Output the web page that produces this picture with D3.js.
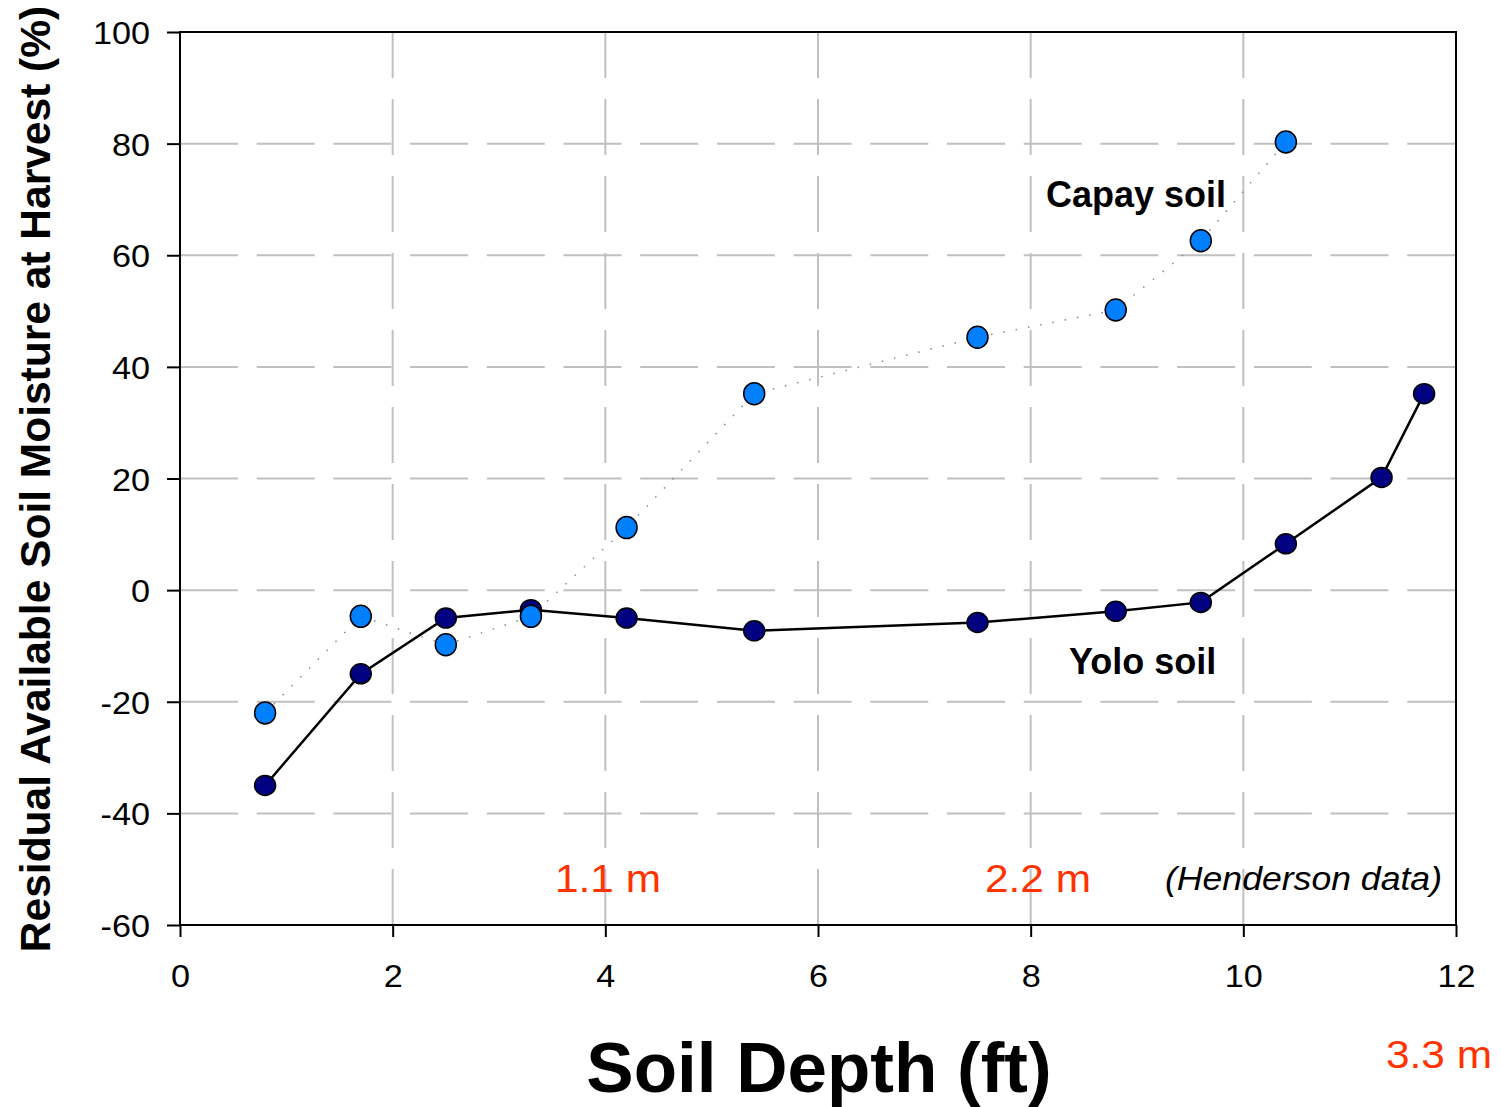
<!DOCTYPE html>
<html><head><meta charset="utf-8">
<script src="https://cdn.jsdelivr.net/npm/d3@7"></script>
<style>body{margin:0;background:#fff}svg{display:block}text{font-family:"Liberation Sans",Arial,sans-serif}</style>
</head><body>
<svg id="c" width="1501" height="1107"></svg>
<script>
const yoloDepth = [0.8, 1.7, 2.5, 3.3, 4.2, 5.4, 7.5, 8.8, 9.6, 10.4, 11.3, 11.7];
const yoloValue = [-35, -15, -5, -3.5, -5, -7.3, -5.8, -3.8, -2.2, 8.3, 20.2, 35.2];
const capayDepth = [0.8, 1.7, 2.5, 3.3, 4.2, 5.4, 7.5, 8.8, 9.6, 10.4];
const capayValue = [-22, -4.7, -9.8, -4.7, 11.2, 35.2, 45.3, 50.2, 62.6, 80.3];
const xTicks = [0, 2, 4, 6, 8, 10, 12];
const yTicks = [-60, -40, -20, 0, 20, 40, 60, 80, 100];

const svg = d3.select("#c");
const L = 180, R = 1456, T = 32, B = 925;
const x = d3.scaleLinear().domain([0, 12]).range([L, R]);
const y = d3.scaleLinear().domain([-60, 100]).range([B, T]);

// gridlines
const grid = svg.append("g");
grid.selectAll("line.h").data(yTicks.filter(v => v > -60 && v < 100)).join("line")
  .attr("x1", L).attr("x2", R).attr("y1", d => y(d)).attr("y2", d => y(d))
  .attr("stroke", "#c0c0c0").attr("stroke-width", 2).attr("stroke-dasharray", "58,18.7");
grid.selectAll("line.v").data(xTicks.filter(v => v > 0 && v < 12)).join("line")
  .attr("y1", B).attr("y2", T).attr("x1", d => x(d)).attr("x2", d => x(d))
  .attr("stroke", "#c0c0c0").attr("stroke-width", 2).attr("stroke-dasharray", "56,21");

// frame
svg.append("rect").attr("x", L).attr("y", T).attr("width", R - L).attr("height", B - T)
  .attr("fill", "none").attr("stroke", "#000").attr("stroke-width", 2);

// axes
const fmt = d => String(d);
const xAxis = svg.append("g").attr("transform", `translate(0,${B})`)
  .call(d3.axisBottom(x).tickValues(xTicks).tickSize(12).tickPadding(27).tickFormat(fmt));
const yAxis = svg.append("g").attr("transform", `translate(${L},0)`)
  .call(d3.axisLeft(y).tickValues(yTicks).tickSize(13).tickPadding(17).tickFormat(fmt));
[xAxis, yAxis].forEach(a => {
  a.select(".domain").remove();
  a.selectAll("line").attr("stroke", "#000").attr("stroke-width", 2);
  a.selectAll("text").attr("font-size", 32).attr("fill", "#000").attr("font-family", "Liberation Sans, Arial, sans-serif");
});
xAxis.selectAll("text").each(function() {
  const t = d3.select(this); const yy = +t.attr("y");
  t.attr("y", 0).attr("transform", `translate(0,${yy}) scale(1.07,1)`);
});
yAxis.selectAll("text").attr("dy", "0.36em").each(function() {
  const t = d3.select(this); const xx = +t.attr("x");
  t.attr("x", 0).attr("transform", `translate(${xx},0) scale(1.07,1)`);
});

const line = d3.line().x(d => x(d[0])).y(d => y(d[1]));
const capay = capayDepth.map((d, i) => [d, capayValue[i]]);
const yolo = yoloDepth.map((d, i) => [d, yoloValue[i]]);

svg.append("path").attr("d", line(capay)).attr("fill", "none")
  .attr("stroke", "#888").attr("stroke-width", 1.5).attr("stroke-dasharray", "1.5,11");
svg.append("path").attr("d", line(yolo)).attr("fill", "none")
  .attr("stroke", "#000").attr("stroke-width", 2.5);

svg.append("g").selectAll("ellipse").data(yolo).join("ellipse")
  .attr("cx", d => x(d[0])).attr("cy", d => y(d[1])).attr("rx", 10.5).attr("ry", 10)
  .attr("fill", "#000080").attr("stroke", "#000").attr("stroke-width", 1.5);
svg.append("g").selectAll("ellipse").data(capay).join("ellipse")
  .attr("cx", d => x(d[0])).attr("cy", d => y(d[1])).attr("rx", 10.5).attr("ry", 11)
  .attr("fill", "#0080ff").attr("stroke", "#000").attr("stroke-width", 1.5);

// annotations
svg.append("text").attr("x", 1046).attr("y", 207).attr("font-size", 36).attr("font-weight", "bold").text("Capay soil");
svg.append("text").attr("x", 1069).attr("y", 674).attr("font-size", 36).attr("font-weight", "bold").text("Yolo soil");
const red = "#ff3300";
const redLabel = (tx, ty, s) => svg.append("text").attr("x", tx).attr("y", ty).attr("font-size", 39)
  .attr("fill", red).attr("textLength", 106).attr("lengthAdjust", "spacingAndGlyphs").text(s);
redLabel(555, 892, "1.1 m");
redLabel(985, 892, "2.2 m");
redLabel(1386, 1068, "3.3 m");
svg.append("text").attr("x", 1165).attr("y", 890).attr("font-size", 34).attr("font-style", "italic")
  .attr("textLength", 277).attr("lengthAdjust", "spacingAndGlyphs").text("(Henderson data)");

// axis titles
svg.append("text").attr("x", 819).attr("y", 1092).attr("text-anchor", "middle").attr("font-size", 71).attr("font-weight", "bold").text("Soil Depth (ft)");
svg.append("text").attr("transform", "translate(50,479) rotate(-90)").attr("text-anchor", "middle").attr("font-size", 42.5).attr("font-weight", "bold").text("Residual Available Soil Moisture at Harvest (%)");
</script>
</body></html>
